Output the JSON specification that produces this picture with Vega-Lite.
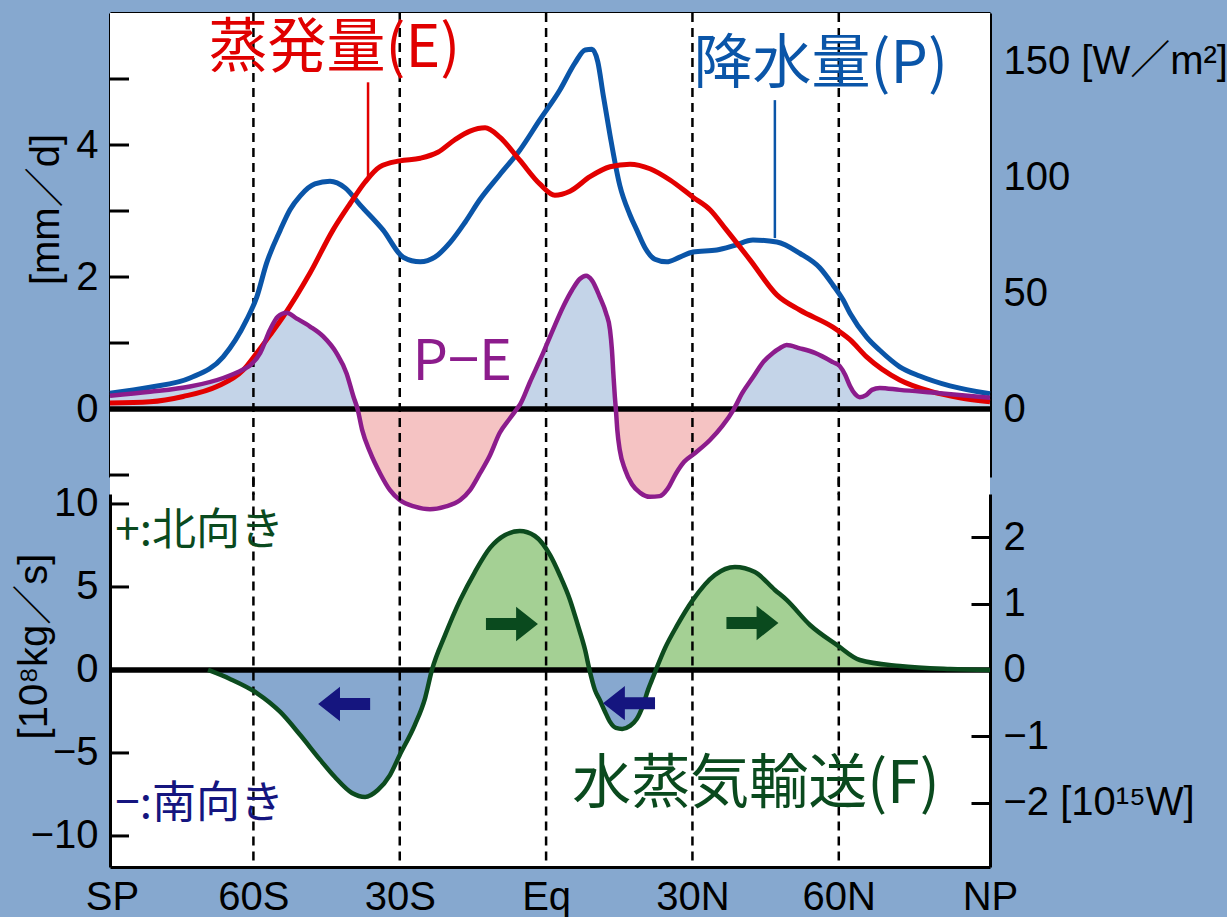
{
  "$schema": "https://vega.github.io/schema/vega-lite/v6.json",
  "background": "#86A8CF",
  "padding": {"left": 14, "top": 11, "right": 0, "bottom": 0},
  "spacing": 17,
  "bounds": "flush",
  "config": {
    "view": {"stroke": null},
    "axis": {
      "zindex": 1,
      "grid": false,
      "domainColor": "black",
      "domainWidth": 3,
      "tickColor": "black",
      "tickWidth": 3,
      "labelColor": "black",
      "labelFont": "Liberation Sans, Noto Sans CJK JP",
      "labelFontSize": 40,
      "labelLimit": 0,
      "titleColor": "black",
      "titleFont": "Liberation Sans, Noto Sans CJK JP",
      "titleFontSize": 40,
      "titleFontWeight": "normal",
      "titleLimit": 0,
      "labelOverlap": false,
      "labelBound": false,
      "labelFlush": false
    }
  },
  "datasets": {
    "precip": [
      {"lat": -89.4, "v": 0.24}, {"lat": -81.2, "v": 0.33}, {"lat": -73.0, "v": 0.47}, {"lat": -66.2, "v": 0.79},
      {"lat": -61.4, "v": 1.35}, {"lat": -59.3, "v": 1.70}, {"lat": -57.3, "v": 2.21}, {"lat": -54.5, "v": 2.71},
      {"lat": -52.5, "v": 3.02}, {"lat": -50.4, "v": 3.23}, {"lat": -47.4, "v": 3.41}, {"lat": -44.3, "v": 3.45},
      {"lat": -41.2, "v": 3.35}, {"lat": -38.1, "v": 3.09}, {"lat": -33.4, "v": 2.71}, {"lat": -29.3, "v": 2.30},
      {"lat": -25.8, "v": 2.23}, {"lat": -22.8, "v": 2.30}, {"lat": -19.7, "v": 2.52}, {"lat": -16.6, "v": 2.83},
      {"lat": -13.6, "v": 3.17}, {"lat": -9.5, "v": 3.55}, {"lat": -5.4, "v": 3.92}, {"lat": -1.3, "v": 4.38},
      {"lat": 2.8, "v": 4.83}, {"lat": 5.9, "v": 5.24}, {"lat": 8.0, "v": 5.44}, {"lat": 9.4, "v": 5.45},
      {"lat": 10.6, "v": 5.26}, {"lat": 11.7, "v": 4.76}, {"lat": 13.1, "v": 4.15}, {"lat": 15.1, "v": 3.39},
      {"lat": 17.2, "v": 2.94}, {"lat": 18.6, "v": 2.71}, {"lat": 20.3, "v": 2.44}, {"lat": 22.3, "v": 2.27},
      {"lat": 24.7, "v": 2.23}, {"lat": 27.4, "v": 2.30}, {"lat": 30.1, "v": 2.38}, {"lat": 35.0, "v": 2.41},
      {"lat": 38.7, "v": 2.48}, {"lat": 42.4, "v": 2.56}, {"lat": 47.3, "v": 2.53}, {"lat": 52.0, "v": 2.36},
      {"lat": 56.1, "v": 2.14}, {"lat": 58.8, "v": 1.88}, {"lat": 60.9, "v": 1.65}, {"lat": 62.3, "v": 1.45},
      {"lat": 65.7, "v": 1.09}, {"lat": 68.4, "v": 0.89}, {"lat": 72.5, "v": 0.64}, {"lat": 76.6, "v": 0.50},
      {"lat": 82.8, "v": 0.35}, {"lat": 91.0, "v": 0.23}
    ],
    "evap": [
      {"lat": -89.4, "v": 0.09}, {"lat": -81.2, "v": 0.11}, {"lat": -74.4, "v": 0.19}, {"lat": -67.5, "v": 0.34},
      {"lat": -62.1, "v": 0.59}, {"lat": -59.3, "v": 0.85}, {"lat": -56.6, "v": 1.12}, {"lat": -53.9, "v": 1.40},
      {"lat": -48.4, "v": 2.06}, {"lat": -43.7, "v": 2.71}, {"lat": -40.2, "v": 3.11}, {"lat": -37.1, "v": 3.44},
      {"lat": -34.1, "v": 3.67}, {"lat": -30.0, "v": 3.76}, {"lat": -25.8, "v": 3.80}, {"lat": -22.2, "v": 3.89},
      {"lat": -18.7, "v": 4.08}, {"lat": -15.6, "v": 4.21}, {"lat": -12.5, "v": 4.26}, {"lat": -9.5, "v": 4.12},
      {"lat": -5.4, "v": 3.77}, {"lat": -1.3, "v": 3.41}, {"lat": 1.8, "v": 3.24}, {"lat": 4.9, "v": 3.30},
      {"lat": 9.0, "v": 3.52}, {"lat": 13.1, "v": 3.67}, {"lat": 17.2, "v": 3.71}, {"lat": 21.3, "v": 3.64},
      {"lat": 25.4, "v": 3.47}, {"lat": 30.1, "v": 3.21}, {"lat": 33.6, "v": 3.02}, {"lat": 37.0, "v": 2.71},
      {"lat": 41.8, "v": 2.26}, {"lat": 47.3, "v": 1.73}, {"lat": 52.0, "v": 1.50}, {"lat": 58.8, "v": 1.24},
      {"lat": 62.3, "v": 1.05}, {"lat": 65.7, "v": 0.79}, {"lat": 72.5, "v": 0.44}, {"lat": 78.7, "v": 0.27},
      {"lat": 84.8, "v": 0.17}, {"lat": 91.0, "v": 0.11}
    ],
    "pme": [
      {"lat": -89.4, "pe": 0.20, "seg": "a", "sign": "pos"}, {"lat": -81.2, "pe": 0.26, "seg": "a", "sign": "pos"},
      {"lat": -73.0, "pe": 0.34, "seg": "a", "sign": "pos"}, {"lat": -66.2, "pe": 0.47, "seg": "a", "sign": "pos"},
      {"lat": -62.1, "pe": 0.60, "seg": "a", "sign": "pos"}, {"lat": -60.7, "pe": 0.66, "seg": "a", "sign": "pos"},
      {"lat": -58.6, "pe": 0.85, "seg": "a", "sign": "pos"}, {"lat": -56.6, "pe": 1.20, "seg": "a", "sign": "pos"},
      {"lat": -55.0, "pe": 1.40, "seg": "a", "sign": "pos"}, {"lat": -53.2, "pe": 1.46, "seg": "a", "sign": "pos"},
      {"lat": -51.1, "pe": 1.37, "seg": "a", "sign": "pos"}, {"lat": -48.4, "pe": 1.25, "seg": "a", "sign": "pos"},
      {"lat": -45.7, "pe": 1.10, "seg": "a", "sign": "pos"}, {"lat": -42.9, "pe": 0.84, "seg": "a", "sign": "pos"},
      {"lat": -40.9, "pe": 0.54, "seg": "a", "sign": "pos"}, {"lat": -39.5, "pe": 0.19, "seg": "a", "sign": "pos"},
      {"lat": -38.65, "pe": 0, "seg": "a", "sign": "pos"},
      {"lat": -38.65, "pe": 0, "seg": "b", "sign": "neg"}, {"lat": -37.7, "pe": -0.32, "seg": "b", "sign": "neg"},
      {"lat": -36.1, "pe": -0.65, "seg": "b", "sign": "neg"}, {"lat": -34.0, "pe": -0.98, "seg": "b", "sign": "neg"},
      {"lat": -32.0, "pe": -1.23, "seg": "b", "sign": "neg"}, {"lat": -30.0, "pe": -1.38, "seg": "b", "sign": "neg"},
      {"lat": -26.9, "pe": -1.48, "seg": "b", "sign": "neg"}, {"lat": -23.8, "pe": -1.52, "seg": "b", "sign": "neg"},
      {"lat": -20.7, "pe": -1.48, "seg": "b", "sign": "neg"}, {"lat": -17.6, "pe": -1.38, "seg": "b", "sign": "neg"},
      {"lat": -15.6, "pe": -1.23, "seg": "b", "sign": "neg"}, {"lat": -13.6, "pe": -0.98, "seg": "b", "sign": "neg"},
      {"lat": -11.5, "pe": -0.70, "seg": "b", "sign": "neg"}, {"lat": -9.5, "pe": -0.36, "seg": "b", "sign": "neg"},
      {"lat": -7.4, "pe": -0.14, "seg": "b", "sign": "neg"}, {"lat": -6.0, "pe": 0, "seg": "b", "sign": "neg"},
      {"lat": -6.0, "pe": 0, "seg": "c", "sign": "pos"}, {"lat": -5.4, "pe": 0.06, "seg": "c", "sign": "pos"},
      {"lat": -3.3, "pe": 0.41, "seg": "c", "sign": "pos"}, {"lat": -0.6, "pe": 0.85, "seg": "c", "sign": "pos"},
      {"lat": 1.4, "pe": 1.20, "seg": "c", "sign": "pos"}, {"lat": 3.5, "pe": 1.55, "seg": "c", "sign": "pos"},
      {"lat": 5.3, "pe": 1.80, "seg": "c", "sign": "pos"}, {"lat": 6.9, "pe": 1.97, "seg": "c", "sign": "pos"},
      {"lat": 8.2, "pe": 2.02, "seg": "c", "sign": "pos"}, {"lat": 9.4, "pe": 1.95, "seg": "c", "sign": "pos"},
      {"lat": 11.0, "pe": 1.70, "seg": "c", "sign": "pos"}, {"lat": 12.3, "pe": 1.45, "seg": "c", "sign": "pos"},
      {"lat": 13.1, "pe": 1.20, "seg": "c", "sign": "pos"}, {"lat": 13.5, "pe": 0.89, "seg": "c", "sign": "pos"},
      {"lat": 13.8, "pe": 0.52, "seg": "c", "sign": "pos"}, {"lat": 14.1, "pe": 0.18, "seg": "c", "sign": "pos"},
      {"lat": 14.3, "pe": 0, "seg": "c", "sign": "pos"},
      {"lat": 14.3, "pe": 0, "seg": "d", "sign": "neg"}, {"lat": 14.6, "pe": -0.32, "seg": "d", "sign": "neg"},
      {"lat": 15.1, "pe": -0.62, "seg": "d", "sign": "neg"}, {"lat": 16.2, "pe": -0.92, "seg": "d", "sign": "neg"},
      {"lat": 17.6, "pe": -1.14, "seg": "d", "sign": "neg"}, {"lat": 19.3, "pe": -1.27, "seg": "d", "sign": "neg"},
      {"lat": 21.3, "pe": -1.33, "seg": "d", "sign": "neg"}, {"lat": 23.3, "pe": -1.32, "seg": "d", "sign": "neg"},
      {"lat": 24.9, "pe": -1.21, "seg": "d", "sign": "neg"}, {"lat": 26.6, "pe": -0.98, "seg": "d", "sign": "neg"},
      {"lat": 28.3, "pe": -0.80, "seg": "d", "sign": "neg"}, {"lat": 30.5, "pe": -0.67, "seg": "d", "sign": "neg"},
      {"lat": 33.6, "pe": -0.47, "seg": "d", "sign": "neg"}, {"lat": 36.1, "pe": -0.26, "seg": "d", "sign": "neg"},
      {"lat": 38.5, "pe": 0, "seg": "d", "sign": "neg"},
      {"lat": 38.5, "pe": 0, "seg": "e", "sign": "pos"}, {"lat": 40.2, "pe": 0.24, "seg": "e", "sign": "pos"},
      {"lat": 42.4, "pe": 0.48, "seg": "e", "sign": "pos"}, {"lat": 44.5, "pe": 0.71, "seg": "e", "sign": "pos"},
      {"lat": 46.5, "pe": 0.85, "seg": "e", "sign": "pos"}, {"lat": 47.9, "pe": 0.92, "seg": "e", "sign": "pos"},
      {"lat": 49.3, "pe": 0.97, "seg": "e", "sign": "pos"}, {"lat": 52.0, "pe": 0.92, "seg": "e", "sign": "pos"},
      {"lat": 55.1, "pe": 0.85, "seg": "e", "sign": "pos"}, {"lat": 58.8, "pe": 0.71, "seg": "e", "sign": "pos"},
      {"lat": 60.2, "pe": 0.65, "seg": "e", "sign": "pos"}, {"lat": 61.3, "pe": 0.52, "seg": "e", "sign": "pos"},
      {"lat": 62.3, "pe": 0.35, "seg": "e", "sign": "pos"}, {"lat": 63.3, "pe": 0.23, "seg": "e", "sign": "pos"},
      {"lat": 64.3, "pe": 0.18, "seg": "e", "sign": "pos"}, {"lat": 65.6, "pe": 0.21, "seg": "e", "sign": "pos"},
      {"lat": 66.8, "pe": 0.29, "seg": "e", "sign": "pos"}, {"lat": 68.4, "pe": 0.32, "seg": "e", "sign": "pos"},
      {"lat": 72.5, "pe": 0.29, "seg": "e", "sign": "pos"}, {"lat": 80.7, "pe": 0.24, "seg": "e", "sign": "pos"},
      {"lat": 91.0, "pe": 0.17, "seg": "e", "sign": "pos"}
    ],
    "transport": [
      {"lat": -69.3, "f": 0, "seg": "a", "sign": "neg"}, {"lat": -64.8, "f": -0.54, "seg": "a", "sign": "neg"},
      {"lat": -59.3, "f": -1.39, "seg": "a", "sign": "neg"}, {"lat": -54.5, "f": -2.53, "seg": "a", "sign": "neg"},
      {"lat": -50.4, "f": -3.92, "seg": "a", "sign": "neg"}, {"lat": -46.3, "f": -5.42, "seg": "a", "sign": "neg"},
      {"lat": -43.3, "f": -6.45, "seg": "a", "sign": "neg"}, {"lat": -39.8, "f": -7.41, "seg": "a", "sign": "neg"},
      {"lat": -37.1, "f": -7.65, "seg": "a", "sign": "neg"}, {"lat": -34.5, "f": -7.23, "seg": "a", "sign": "neg"},
      {"lat": -32.0, "f": -6.33, "seg": "a", "sign": "neg"}, {"lat": -30.0, "f": -5.12, "seg": "a", "sign": "neg"},
      {"lat": -26.9, "f": -3.31, "seg": "a", "sign": "neg"}, {"lat": -24.8, "f": -1.69, "seg": "a", "sign": "neg"},
      {"lat": -23.4, "f": 0, "seg": "a", "sign": "neg"},
      {"lat": -23.4, "f": 0, "seg": "b", "sign": "pos"}, {"lat": -20.7, "f": 2.11, "seg": "b", "sign": "pos"},
      {"lat": -17.6, "f": 4.22, "seg": "b", "sign": "pos"}, {"lat": -14.6, "f": 5.90, "seg": "b", "sign": "pos"},
      {"lat": -11.5, "f": 7.35, "seg": "b", "sign": "pos"}, {"lat": -8.4, "f": 8.13, "seg": "b", "sign": "pos"},
      {"lat": -5.4, "f": 8.37, "seg": "b", "sign": "pos"}, {"lat": -2.3, "f": 8.07, "seg": "b", "sign": "pos"},
      {"lat": 0.8, "f": 6.93, "seg": "b", "sign": "pos"}, {"lat": 2.8, "f": 5.72, "seg": "b", "sign": "pos"},
      {"lat": 4.9, "f": 4.22, "seg": "b", "sign": "pos"}, {"lat": 6.5, "f": 2.71, "seg": "b", "sign": "pos"},
      {"lat": 8.0, "f": 1.20, "seg": "b", "sign": "pos"}, {"lat": 8.9, "f": 0, "seg": "b", "sign": "pos"},
      {"lat": 8.9, "f": 0, "seg": "c", "sign": "neg"}, {"lat": 10.0, "f": -1.20, "seg": "c", "sign": "neg"},
      {"lat": 11.0, "f": -1.81, "seg": "c", "sign": "neg"}, {"lat": 12.1, "f": -2.53, "seg": "c", "sign": "neg"},
      {"lat": 13.1, "f": -3.13, "seg": "c", "sign": "neg"}, {"lat": 14.3, "f": -3.49, "seg": "c", "sign": "neg"},
      {"lat": 15.6, "f": -3.55, "seg": "c", "sign": "neg"}, {"lat": 17.2, "f": -3.37, "seg": "c", "sign": "neg"},
      {"lat": 18.6, "f": -2.95, "seg": "c", "sign": "neg"}, {"lat": 19.9, "f": -2.11, "seg": "c", "sign": "neg"},
      {"lat": 20.9, "f": -1.20, "seg": "c", "sign": "neg"}, {"lat": 21.7, "f": -0.60, "seg": "c", "sign": "neg"},
      {"lat": 22.5, "f": 0, "seg": "c", "sign": "neg"},
      {"lat": 22.5, "f": 0, "seg": "d", "sign": "pos"}, {"lat": 24.4, "f": 1.33, "seg": "d", "sign": "pos"},
      {"lat": 26.8, "f": 2.65, "seg": "d", "sign": "pos"}, {"lat": 30.1, "f": 4.22, "seg": "d", "sign": "pos"},
      {"lat": 34.6, "f": 5.72, "seg": "d", "sign": "pos"}, {"lat": 38.7, "f": 6.20, "seg": "d", "sign": "pos"},
      {"lat": 42.8, "f": 5.90, "seg": "d", "sign": "pos"}, {"lat": 46.9, "f": 4.82, "seg": "d", "sign": "pos"},
      {"lat": 49.3, "f": 4.22, "seg": "d", "sign": "pos"}, {"lat": 54.1, "f": 2.71, "seg": "d", "sign": "pos"},
      {"lat": 59.6, "f": 1.51, "seg": "d", "sign": "pos"}, {"lat": 64.3, "f": 0.60, "seg": "d", "sign": "pos"},
      {"lat": 72.5, "f": 0.24, "seg": "d", "sign": "pos"}, {"lat": 82.8, "f": 0.06, "seg": "d", "sign": "pos"},
      {"lat": 91.0, "f": 0.0, "seg": "d", "sign": "pos"}
    ],
    "meridians": [{"lat": -60}, {"lat": -30}, {"lat": 0}, {"lat": 30}, {"lat": 60}],
    "mmTicks": [{"v": -1}, {"v": 0}, {"v": 1}, {"v": 2}, {"v": 3}, {"v": 4}, {"v": 5}],
    "fluxTicks": [{"f": -10}, {"f": -5}, {"f": 0}, {"f": 5}, {"f": 10}],
    "arrows": [
      {"lat": -7.0, "f": 2.77, "dir": "N"},
      {"lat": 42.3, "f": 2.83, "dir": "N"},
      {"lat": -41.4, "f": -2.05, "dir": "S"},
      {"lat": 17.0, "f": -2.0, "dir": "S"}
    ]
  },
  "vconcat": [
    {
      "width": 880,
      "height": 464,
      "resolve": {"scale": {"y": "independent"}, "axis": {"y": "independent"}},
      "layer": [
        {
          "layer": [
            {
              "data": {"values": [{}]},
              "mark": {"type": "rect", "color": "white"},
              "encoding": {
                "x": {"datum": -89.4, "type": "quantitative",
                      "scale": {"domain": [-89.4, 91], "nice": false, "zero": false},
                      "axis": {"orient": "top", "labels": false, "ticks": false, "title": null}},
                "x2": {"datum": 91},
                "y": {"datum": 6.0, "type": "quantitative",
                      "scale": {"domain": [-1.03, 6.0], "nice": false, "zero": false}, "axis": null},
                "y2": {"datum": -6.94}
              }
            },
            {
              "data": {"name": "pme"},
              "transform": [{"filter": "datum.sign == 'pos'"}],
              "mark": {"type": "area", "interpolate": "monotone", "color": "#C4D4E8"},
              "encoding": {
                "x": {"field": "lat", "type": "quantitative"},
                "y": {"field": "pe", "type": "quantitative", "stack": null, "axis": null},
                "y2": {"datum": 0},
                "detail": {"field": "seg"}
              }
            },
            {
              "data": {"name": "pme"},
              "transform": [{"filter": "datum.sign == 'neg'"}],
              "mark": {"type": "area", "interpolate": "monotone", "color": "#F5C3C3"},
              "encoding": {
                "x": {"field": "lat", "type": "quantitative"},
                "y": {"field": "pe", "type": "quantitative", "stack": null, "axis": null},
                "y2": {"datum": 0},
                "detail": {"field": "seg"}
              }
            },
            {
              "data": {"name": "meridians"},
              "mark": {"type": "rule", "color": "black", "strokeWidth": 2.5, "strokeDash": [9, 6]},
              "encoding": {
                "x": {"field": "lat", "type": "quantitative"},
                "y": {"datum": 6.0, "type": "quantitative", "axis": null},
                "y2": {"datum": -1.3}
              }
            },
            {
              "data": {"values": [{}]},
              "mark": {"type": "rule", "color": "black", "strokeWidth": 5.5},
              "encoding": {
                "x": {"datum": -89.4, "type": "quantitative"},
                "x2": {"datum": 91},
                "y": {"datum": 0, "type": "quantitative", "axis": null}
              }
            },
            {
              "data": {"name": "precip"},
              "mark": {"type": "line", "interpolate": "monotone", "color": "#0A55A8", "strokeWidth": 5},
              "encoding": {
                "x": {"field": "lat", "type": "quantitative"},
                "y": {"field": "v", "type": "quantitative", "axis": null}
              }
            },
            {
              "data": {"name": "evap"},
              "mark": {"type": "line", "interpolate": "monotone", "color": "#E20000", "strokeWidth": 5},
              "encoding": {
                "x": {"field": "lat", "type": "quantitative"},
                "y": {"field": "v", "type": "quantitative", "axis": null}
              }
            },
            {
              "data": {"name": "pme"},
              "mark": {"type": "line", "interpolate": "monotone", "color": "#8C1C8C", "strokeWidth": 4.5},
              "encoding": {
                "x": {"field": "lat", "type": "quantitative"},
                "y": {"field": "pe", "type": "quantitative", "axis": null}
              }
            },
            {
              "data": {"name": "mmTicks"},
              "mark": {"type": "rule", "color": "black", "strokeWidth": 3},
              "encoding": {
                "x": {"datum": -89.4, "type": "quantitative"},
                "x2": {"datum": -85.5},
                "y": {"field": "v", "type": "quantitative", "axis": null}
              }
            },
            {
              "data": {"values": [{}]},
              "mark": {"type": "rule", "color": "#E20000", "strokeWidth": 2.5},
              "encoding": {
                "x": {"datum": -36.5, "type": "quantitative"},
                "y": {"datum": 4.95, "type": "quantitative", "axis": null},
                "y2": {"datum": 3.5}
              }
            },
            {
              "data": {"values": [{}]},
              "mark": {"type": "rule", "color": "#0A55A8", "strokeWidth": 2.5},
              "encoding": {
                "x": {"datum": 46.9, "type": "quantitative"},
                "y": {"datum": 4.68, "type": "quantitative", "axis": null},
                "y2": {"datum": 2.59}
              }
            },
            {
              "data": {"values": [{}]},
              "mark": {"type": "text", "text": "蒸発量(E)", "font": "Noto Sans CJK JP", "fontSize": 59, "color": "#E00000", "align": "center", "baseline": "middle"},
              "encoding": {
                "x": {"datum": -43.4, "type": "quantitative"},
                "y": {"datum": 5.45, "type": "quantitative", "axis": null}
              }
            },
            {
              "data": {"values": [{}]},
              "mark": {"type": "text", "text": "降水量(P)", "font": "Noto Sans CJK JP", "fontSize": 59, "color": "#0A55A8", "align": "center", "baseline": "middle"},
              "encoding": {
                "x": {"datum": 56.3, "type": "quantitative"},
                "y": {"datum": 5.21, "type": "quantitative", "axis": null}
              }
            },
            {
              "data": {"values": [{}]},
              "mark": {"type": "text", "text": "P−E", "font": "Noto Sans CJK JP", "fontSize": 56, "color": "#8C1C8C", "align": "center", "baseline": "middle"},
              "encoding": {
                "x": {"datum": -17.2, "type": "quantitative"},
                "y": {"datum": 0.70, "type": "quantitative", "axis": null}
              }
            }
          ]
        },
        {
          "data": {"values": [{}]},
          "mark": {"type": "rule", "opacity": 0},
          "encoding": {
            "y": {"datum": 0, "type": "quantitative",
                  "scale": {"domain": [-1.03, 6.0], "nice": false, "zero": false},
                  "axis": {"orient": "left", "values": [-1, 0, 1, 2, 3, 4, 5], "format": "d",
                           "labelExpr": "datum.value == 0 || datum.value == 2 || datum.value == 4 ? datum.label : ''",
                           "ticks": false, "labelPadding": 12,
                           "title": "[mm／d]", "titleX": -64, "titleY": 196, "titleAngle": 270,
                           "titleAlign": "center", "titleBaseline": "middle"}}
          }
        },
        {
          "data": {"values": [{}]},
          "mark": {"type": "rule", "opacity": 0},
          "encoding": {
            "y": {"datum": 0, "type": "quantitative",
                  "scale": {"domain": [-29.3, 170.7], "nice": false, "zero": false},
                  "axis": {"orient": "right", "values": [0, 25, 50, 75, 100, 125, 150], "format": "d",
                           "labelExpr": "datum.value == 150 ? '150 [W／m²]' : (datum.value % 50 == 0 ? datum.label : '')",
                           "tickSize": -19, "labelPadding": 32, "title": null}}
          }
        }
      ]
    },
    {
      "width": 880,
      "height": 373,
      "resolve": {"scale": {"y": "independent"}, "axis": {"y": "independent"}},
      "layer": [
        {
          "layer": [
            {
              "data": {"name": "transport"},
              "transform": [{"filter": "datum.sign == 'pos'"}],
              "mark": {"type": "area", "interpolate": "monotone", "color": "#A4D094"},
              "encoding": {
                "x": {"field": "lat", "type": "quantitative",
                      "scale": {"domain": [-89.4, 91], "nice": false, "zero": false},
                      "axis": {"orient": "bottom", "values": [-89, -60, -30, 0, 30, 60, 91],
                               "labelExpr": "datum.value < -80 ? 'SP' : (datum.value > 80 ? 'NP' : (datum.value == 0 ? 'Eq' : (datum.value < 0 ? (-datum.value) + 'S' : datum.value + 'N')))",
                               "ticks": false, "labelPadding": 10, "title": null}},
                "y": {"field": "f", "type": "quantitative", "stack": null,
                      "scale": {"domain": [-11.87, 10.6], "nice": false, "zero": false}, "axis": null},
                "y2": {"datum": 0},
                "detail": {"field": "seg"}
              }
            },
            {
              "data": {"name": "transport"},
              "transform": [{"filter": "datum.sign == 'neg'"}],
              "mark": {"type": "area", "interpolate": "monotone", "color": "#87A8CF"},
              "encoding": {
                "x": {"field": "lat", "type": "quantitative"},
                "y": {"field": "f", "type": "quantitative", "stack": null, "axis": null},
                "y2": {"datum": 0},
                "detail": {"field": "seg"}
              }
            },
            {
              "data": {"name": "meridians"},
              "mark": {"type": "rule", "color": "black", "strokeWidth": 2.5, "strokeDash": [9, 6]},
              "encoding": {
                "x": {"field": "lat", "type": "quantitative"},
                "y": {"datum": 11.65, "type": "quantitative", "axis": null},
                "y2": {"datum": -11.87}
              }
            },
            {
              "data": {"values": [{}]},
              "mark": {"type": "rule", "color": "black", "strokeWidth": 5.5},
              "encoding": {
                "x": {"datum": -89.4, "type": "quantitative"},
                "x2": {"datum": 91},
                "y": {"datum": 0, "type": "quantitative", "axis": null}
              }
            },
            {
              "data": {"name": "transport"},
              "mark": {"type": "line", "interpolate": "monotone", "color": "#0C4B1E", "strokeWidth": 4.5},
              "encoding": {
                "x": {"field": "lat", "type": "quantitative"},
                "y": {"field": "f", "type": "quantitative", "axis": null}
              }
            },
            {
              "data": {"name": "fluxTicks"},
              "mark": {"type": "rule", "color": "black", "strokeWidth": 3},
              "encoding": {
                "x": {"datum": -89.4, "type": "quantitative"},
                "x2": {"datum": -85.5},
                "y": {"field": "f", "type": "quantitative", "axis": null}
              }
            },
            {
              "data": {"name": "arrows"},
              "transform": [{"filter": "datum.dir == 'N'"}],
              "mark": {"type": "point", "filled": true, "opacity": 1, "color": "#0A4A1E", "size": 2704,
                       "shape": "M-1,-0.23L0.16,-0.23L0.16,-0.66L1,0L0.16,0.66L0.16,0.23L-1,0.23Z"},
              "encoding": {
                "x": {"field": "lat", "type": "quantitative"},
                "y": {"field": "f", "type": "quantitative", "axis": null}
              }
            },
            {
              "data": {"name": "arrows"},
              "transform": [{"filter": "datum.dir == 'S'"}],
              "mark": {"type": "point", "filled": true, "opacity": 1, "color": "#15157F", "size": 2704,
                       "shape": "M1,-0.23L-0.16,-0.23L-0.16,-0.66L-1,0L-0.16,0.66L-0.16,0.23L1,0.23Z"},
              "encoding": {
                "x": {"field": "lat", "type": "quantitative"},
                "y": {"field": "f", "type": "quantitative", "axis": null}
              }
            },
            {
              "data": {"values": [{}]},
              "mark": {"type": "text", "text": "+:北向き", "font": "Noto Sans CJK JP", "fontSize": 44, "color": "#0A4A1E", "align": "left", "baseline": "middle"},
              "encoding": {
                "x": {"datum": -88.3, "type": "quantitative"},
                "y": {"datum": 8.31, "type": "quantitative", "axis": null}
              }
            },
            {
              "data": {"values": [{}]},
              "mark": {"type": "text", "text": "−:南向き", "font": "Noto Sans CJK JP", "fontSize": 44, "color": "#15157F", "align": "left", "baseline": "middle"},
              "encoding": {
                "x": {"datum": -88.3, "type": "quantitative"},
                "y": {"datum": -8.13, "type": "quantitative", "axis": null}
              }
            },
            {
              "data": {"values": [{}]},
              "mark": {"type": "text", "text": "水蒸気輸送(F)", "font": "Noto Sans CJK JP", "fontSize": 59, "color": "#0A4A1E", "align": "center", "baseline": "middle"},
              "encoding": {
                "x": {"datum": 43.0, "type": "quantitative"},
                "y": {"datum": -6.93, "type": "quantitative", "axis": null}
              }
            }
          ]
        },
        {
          "data": {"values": [{}]},
          "mark": {"type": "rule", "opacity": 0},
          "encoding": {
            "y": {"datum": 0, "type": "quantitative",
                  "scale": {"domain": [-11.87, 10.6], "nice": false, "zero": false},
                  "axis": {"orient": "left", "values": [-10, -5, 0, 5, 10], "format": "d",
                           "ticks": false, "labelPadding": 12,
                           "title": "[10⁸kg／s]", "titleX": -76, "titleY": 152, "titleAngle": 270,
                           "titleAlign": "center", "titleBaseline": "middle"}}
          }
        },
        {
          "data": {"values": [{}]},
          "mark": {"type": "rule", "opacity": 0},
          "encoding": {
            "y": {"datum": 0, "type": "quantitative",
                  "scale": {"domain": [-2.9675, 2.65], "nice": false, "zero": false},
                  "axis": {"orient": "right", "values": [-2, -1, 0, 1, 2], "format": "d",
                           "labelExpr": "datum.value == -2 ? datum.label + ' [10¹⁵W]' : datum.label",
                           "tickSize": -19, "labelPadding": 32, "title": null}}
          }
        }
      ]
    }
  ]
}
